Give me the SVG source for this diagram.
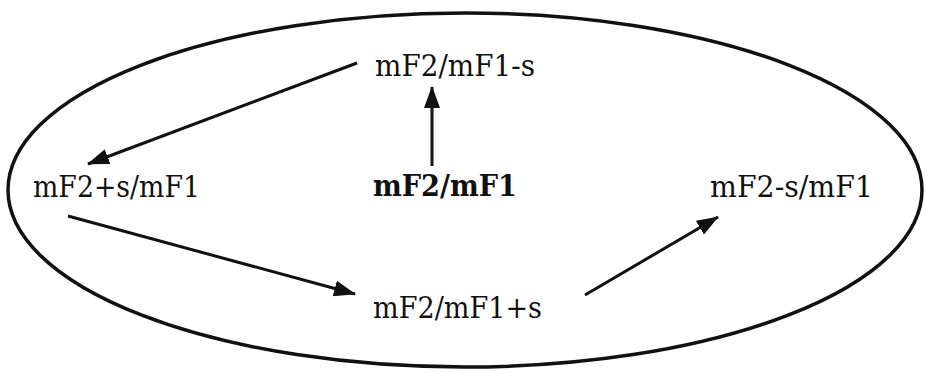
<svg xmlns="http://www.w3.org/2000/svg" width="925" height="372" viewBox="0 0 925 372">
<style>
  .lbl { font-family: "DejaVu Serif", "Liberation Serif", serif; font-size: 29px; fill: #111; }
  .bold { font-weight: bold; }
  .conn { stroke: #111; stroke-width: 3; fill: none; marker-end: url(#ah); }
  .frame { stroke: #111; stroke-width: 3.5; fill: none; }
</style>
<defs>
  <marker id="ah" viewBox="0 0 22 16" refX="21" refY="8" markerWidth="22" markerHeight="16" markerUnits="userSpaceOnUse" orient="auto">
    <path d="M0,0 L22,8 L0,16 z" fill="#111"/>
  </marker>
</defs>
<rect x="0" y="0" width="925" height="372" fill="#ffffff"/>
<g id="boundary">
  <ellipse class="frame" cx="465" cy="190" rx="457" ry="177"/>
</g>
<g id="connectors">
  <line class="conn" x1="357" y1="63" x2="88" y2="164"/>
  <line class="conn" x1="432" y1="166" x2="432" y2="87"/>
  <line class="conn" x1="68" y1="216" x2="355" y2="294"/>
  <line class="conn" x1="585" y1="295" x2="718" y2="217"/>
</g>
<g id="node-top">
  <text class="lbl" x="375" y="76" textLength="160" lengthAdjust="spacingAndGlyphs">mF2/mF1-s</text>
</g>
<g id="node-center">
  <text class="lbl bold" x="373" y="196" textLength="144" lengthAdjust="spacingAndGlyphs">mF2/mF1</text>
</g>
<g id="node-left">
  <text class="lbl" x="33" y="197" textLength="167" lengthAdjust="spacingAndGlyphs">mF2+s/mF1</text>
</g>
<g id="node-right">
  <text class="lbl" x="710" y="197" textLength="163" lengthAdjust="spacingAndGlyphs">mF2-s/mF1</text>
</g>
<g id="node-bottom">
  <text class="lbl" x="373" y="318" textLength="169" lengthAdjust="spacingAndGlyphs">mF2/mF1+s</text>
</g>
</svg>
